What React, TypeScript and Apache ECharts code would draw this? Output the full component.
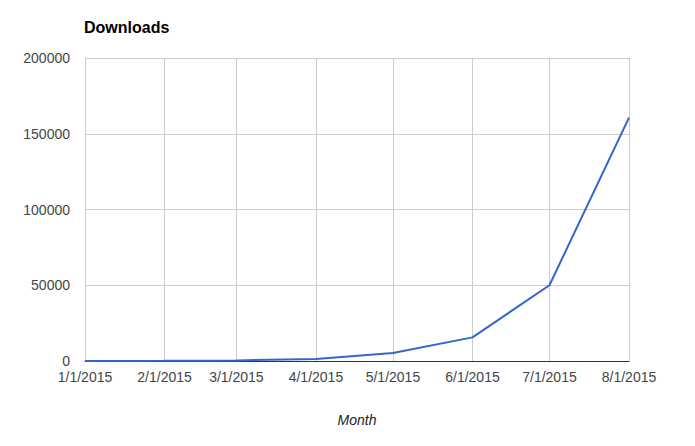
import React, { useEffect, useRef } from "react";
import * as echarts from "echarts";

const months = ["2015-01-01", "2015-02-01", "2015-03-01", "2015-04-01", "2015-05-01", "2015-06-01", "2015-07-01", "2015-08-01"];
const downloads = [0, 100, 400, 1300, 5300, 15600, 50000, 160600];
const yTicks = [0, 50000, 100000, 150000, 200000];

const toUTC = (s: string) => {
  const [y, m, d] = s.split("-").map(Number);
  return Date.UTC(y, m - 1, d);
};

export default function App() {
  const ref = useRef<HTMLDivElement>(null);
  useEffect(() => {
    if (!ref.current) return;
    const chart = echarts.init(ref.current, null, { renderer: "svg" });
    const ts = months.map(toUTC);
    const font = "Arial, 'Liberation Sans', sans-serif";
    chart.setOption({
      animation: false,
      useUTC: true,
      textStyle: { fontFamily: font },
      title: {
        text: "Downloads",
        left: 79,
        top: 14,
        textStyle: { fontSize: 16, fontWeight: "bold", color: "#000", fontFamily: font },
      },
      grid: { left: 85, right: 66, top: 58, bottom: 85, containLabel: false },
      xAxis: {
        type: "time",
        min: ts[0],
        max: ts[ts.length - 1],
        splitNumber: 7,
        name: "Month",
        nameLocation: "middle",
        nameGap: 52,
        nameTextStyle: { fontStyle: "italic", fontSize: 14, color: "#222", fontFamily: font },
        axisLine: { show: true, lineStyle: { color: "#333", width: 1 } },
        axisTick: { show: false },
        axisLabel: {
          fontSize: 14,
          color: "#444",
          margin: 9,
          showMinLabel: true,
          showMaxLabel: true,
          hideOverlap: false,
          formatter: (v: number) => {
            const d = new Date(v);
            return `${d.getUTCMonth() + 1}/${d.getUTCDate()}/${d.getUTCFullYear()}`;
          },
        },
        splitLine: { show: true, lineStyle: { color: "#cccccc", width: 1 } },
      },
      yAxis: {
        type: "value",
        min: 0,
        max: yTicks[yTicks.length - 1],
        interval: yTicks[1] - yTicks[0],
        axisLine: { show: false },
        axisTick: { show: false },
        axisLabel: { fontSize: 14, color: "#444", margin: 15, formatter: (v: number) => String(v) },
        splitLine: { show: true, lineStyle: { color: "#cccccc", width: 1 } },
      },
      series: [
        {
          type: "line",
          data: ts.map((t, i) => [t, downloads[i]]),
          showSymbol: false,
          symbol: "none",
          lineStyle: { color: "#3366cc", width: 2 },
          itemStyle: { color: "#3366cc" },
        },
      ],
    });
    return () => chart.dispose();
  }, []);
  return <div ref={ref} style={{ width: 695, height: 446, position: "absolute", left: 0, top: 0 }} />;
}
